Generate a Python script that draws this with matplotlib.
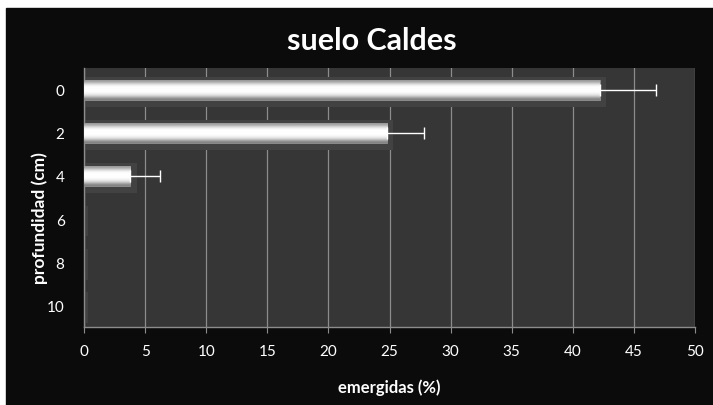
import matplotlib.pyplot as plt
import numpy as np

# datos
profundidad = ["0", "2", "4", "6", "8", "10"]
emergidas = [42.2, 24.8, 3.8, 0.0, 0.0, 0.0]
error = [4.6, 3.0, 2.4, 0.0, 0.0, 0.0]

plt.rcParams['font.family'] = ['Lato', 'DejaVu Sans']

fig = plt.figure(figsize=(7.13, 4.06), dpi=100)
fig.patch.set_facecolor('white')
# fondo negro del grafico
fondo = plt.Rectangle((6 / 713, 0), 707 / 713, 397 / 406,
                      transform=fig.transFigure, color='#0b0b0b', zorder=-5)
fig.add_artist(fondo)

ax = fig.add_axes([84 / 713, 1 - 328 / 406, 611 / 713, 259 / 406])
ax.set_facecolor('#363636')

y = np.arange(len(profundidad))
h = 0.46

# sombra detras de las barras
ax.barh(y + 0.05, [v + 0.5 if v > 0 else 0.35 for v in emergidas], height=h + 0.24,
        left=0, color='#424242', zorder=1)

bars = ax.barh(y, emergidas, height=h, color='#dcdcdc', edgecolor='#8a8a8a',
               linewidth=0.6, zorder=3)

# degradado vertical en cada barra
grad = np.array([0.6, 0.85, 1.0, 1.0, 1.0, 0.95, 0.8, 0.5]).reshape(-1, 1)
for b in bars:
    if b.get_width() <= 0:
        continue
    x0, y0 = b.get_x(), b.get_y()
    im = ax.imshow(grad, cmap='gray', vmin=0, vmax=1, aspect='auto',
                   extent=[x0, x0 + b.get_width(), y0 + b.get_height(), y0],
                   zorder=4, interpolation='bicubic')
    im.set_clip_path(b)

ax.errorbar([v for v, e in zip(emergidas, error) if e > 0],
            [yy for yy, e in zip(y, error) if e > 0],
            xerr=[[0] * 3, [e for e in error if e > 0]],
            fmt='none', ecolor='white', elinewidth=1.0, capsize=4, capthick=1.0, zorder=5)

ax.set_xlim(0, 50)
ax.set_ylim(len(profundidad) - 0.5, -0.5)
ax.set_xticks(np.arange(0, 51, 5))
ax.set_yticks(y)
ax.set_yticklabels(profundidad)
ax.xaxis.grid(True, color='#8c8c8c', linewidth=0.9, zorder=0)
ax.set_axisbelow(True)

for s in ['top', 'right']:
    ax.spines[s].set_visible(False)
for s in ['bottom', 'left']:
    ax.spines[s].set_color('#8c8c8c')
    ax.spines[s].set_linewidth(1.0)

ax.tick_params(axis='x', colors='white', labelsize=11, length=4, color='#8c8c8c', pad=8)
ax.tick_params(axis='y', colors='white', labelsize=11, length=0, pad=14)

ax.set_xlabel('emergidas (%)', color='white', fontsize=12, fontweight='bold', labelpad=15)
fig.text(40 / 713, 1 - 218 / 406, 'profundidad (cm)', color='white', fontsize=12.5,
         fontweight='bold', rotation=90, ha='center', va='center')
fig.text(372 / 713, 1 - 41 / 406, 'suelo Caldes', color='white', fontsize=22,
         fontweight='bold', ha='center', va='center')

fig.savefig('out.png', dpi=100, facecolor=fig.get_facecolor())
